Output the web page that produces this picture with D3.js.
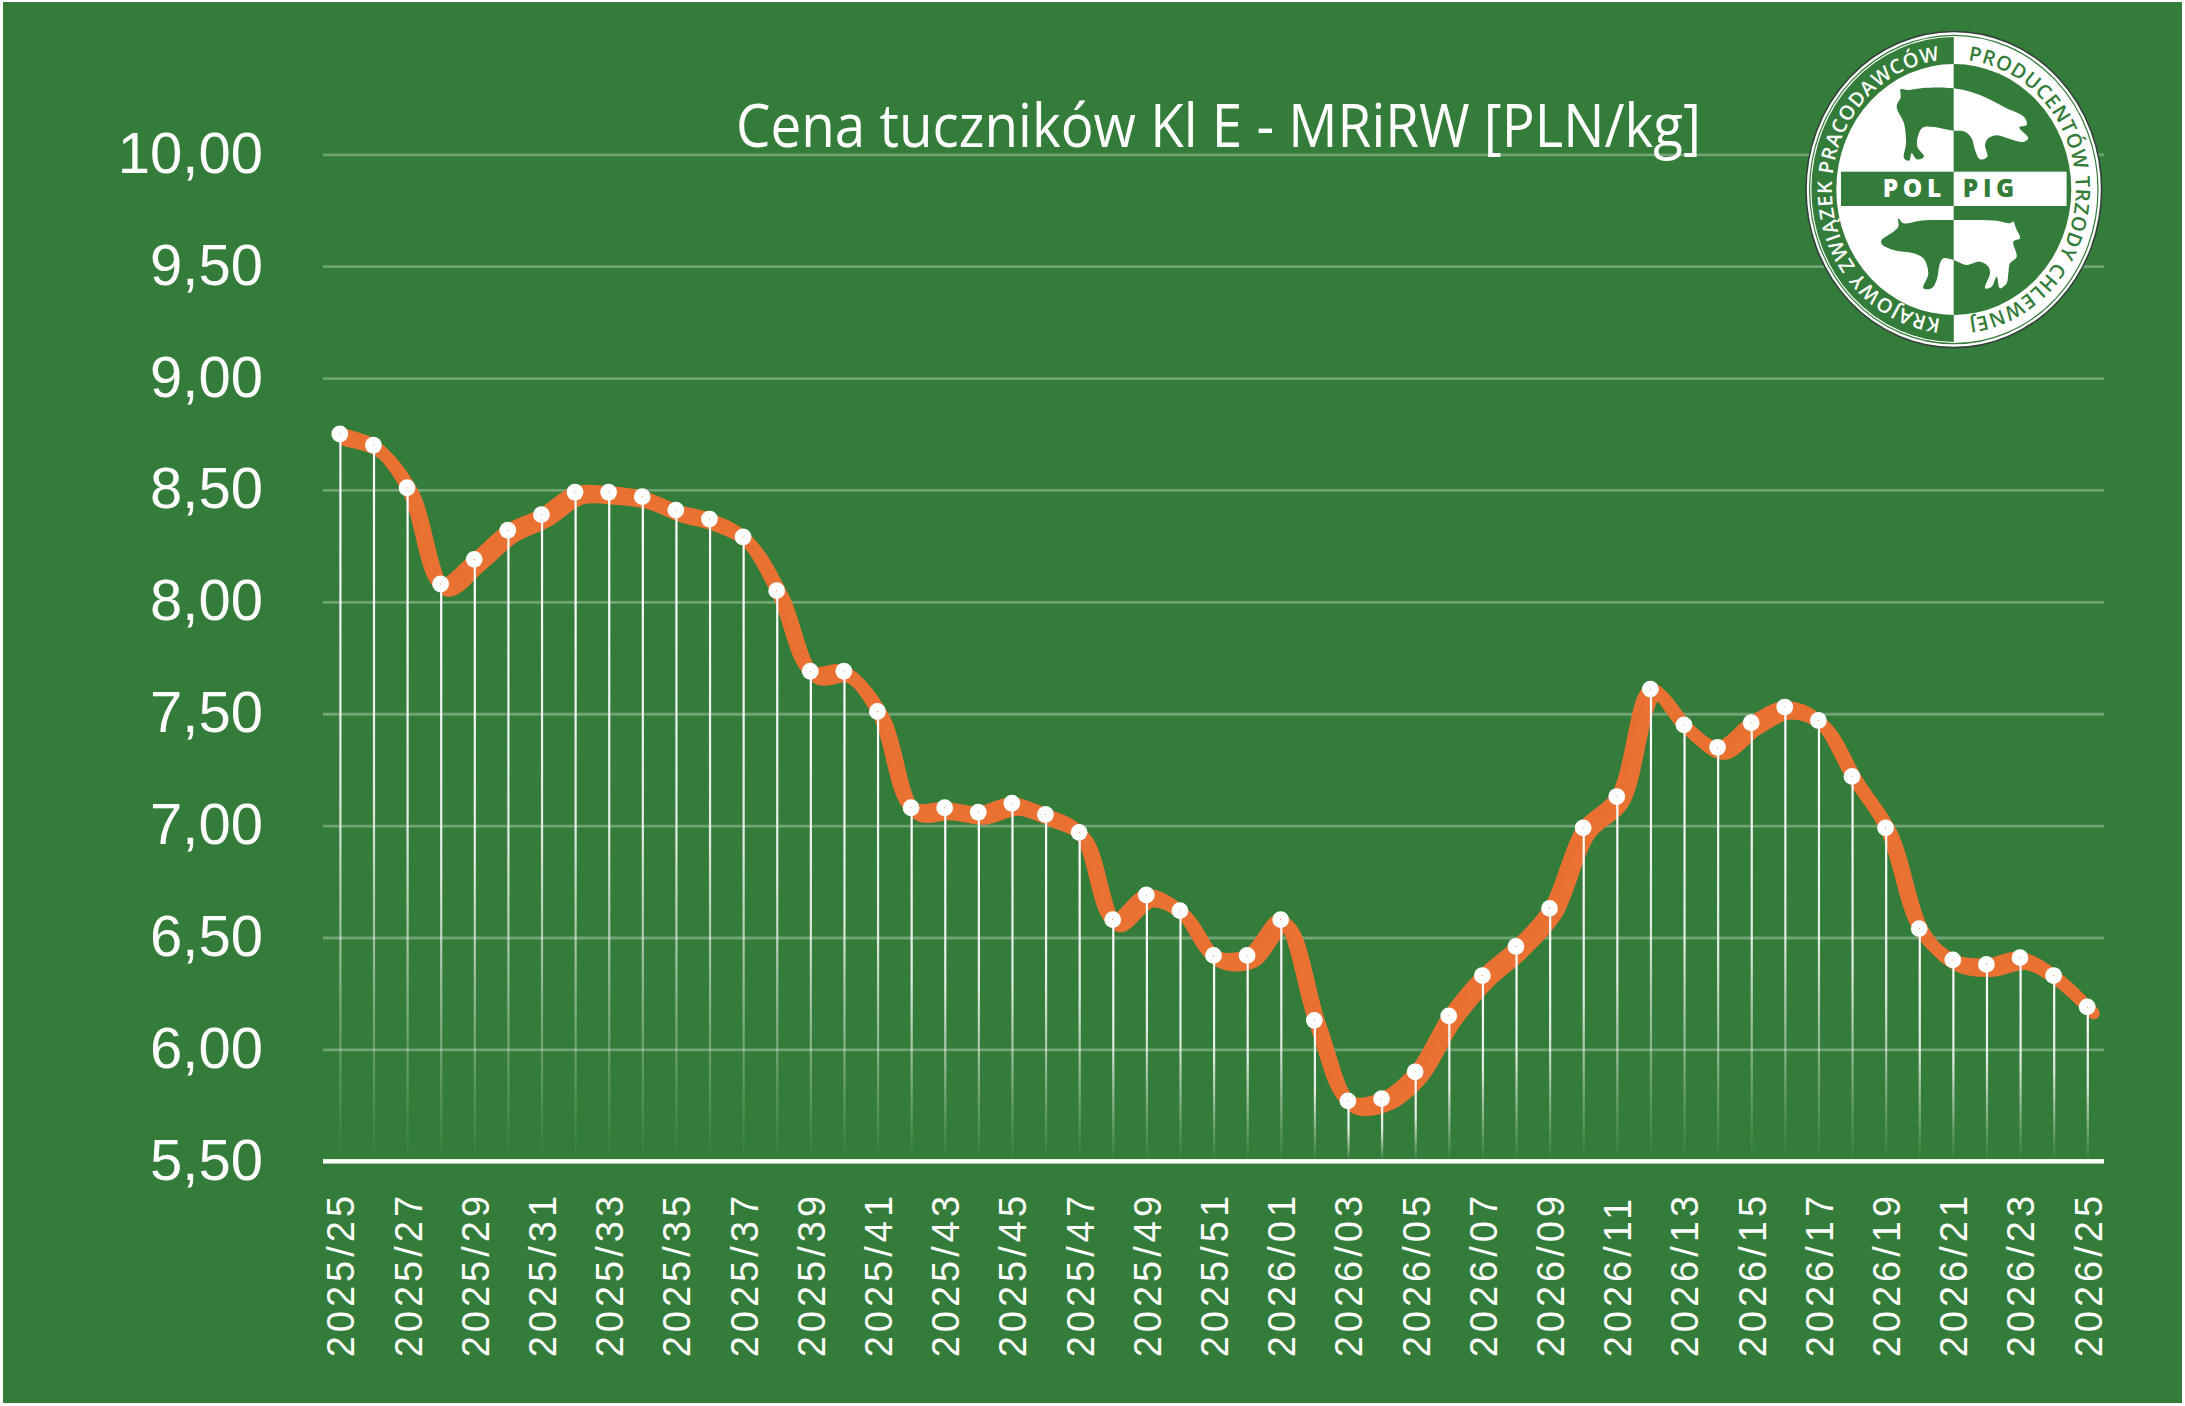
<!DOCTYPE html>
<html lang="pl">
<head>
<meta charset="utf-8">
<title>Cena tuczników Kl E - MRiRW</title>
<script src="https://cdn.jsdelivr.net/npm/d3@7"></script>
<style>
  html, body { margin: 0; padding: 0; background: #fff; }
  svg { display: block; }
  text { font-family: "Liberation Sans", Arial, sans-serif; fill: #fff; }
</style>
</head>
<body>
<svg id="chart" width="2185" height="1406"></svg>
<script>
// Weekly pork price, class E, year/week labels
const weeks = [
  "2025/25","2025/26","2025/27","2025/28","2025/29","2025/30","2025/31","2025/32","2025/33","2025/34",
  "2025/35","2025/36","2025/37","2025/38","2025/39","2025/40","2025/41","2025/42","2025/43","2025/44",
  "2025/45","2025/46","2025/47","2025/48","2025/49","2025/50","2025/51","2025/52","2026/01","2026/02",
  "2026/03","2026/04","2026/05","2026/06","2026/07","2026/08","2026/09","2026/10","2026/11","2026/12",
  "2026/13","2026/14","2026/15","2026/16","2026/17","2026/18","2026/19","2026/20","2026/21","2026/22",
  "2026/23","2026/24","2026/25"
];
const prices = [
  8.75, 8.70, 8.51, 8.08, 8.19, 8.32, 8.39, 8.49, 8.49, 8.47,
  8.41, 8.37, 8.29, 8.05, 7.69, 7.69, 7.51, 7.08, 7.08, 7.06,
  7.10, 7.05, 6.97, 6.58, 6.69, 6.62, 6.42, 6.42, 6.58, 6.13,
  5.77, 5.78, 5.90, 6.15, 6.33, 6.46, 6.63, 6.99, 7.13, 7.61,
  7.45, 7.35, 7.46, 7.53, 7.47, 7.22, 6.99, 6.54, 6.40, 6.38,
  6.41, 6.33, 6.19
];
const priceTicks = [5.5, 6, 6.5, 7, 7.5, 8, 8.5, 9, 9.5, 10];
const weekTicks = weeks.filter((_, i) => i % 2 === 0);
const chartTitle = "Cena tuczników Kl E - MRiRW [PLN/kg]";

const GREEN = "#347c39";
const ORANGE = "#e97132";

const svg = d3.select("#chart");
const plot = { left: 323, right: 2104, top: 154.3, bottom: 1161.3 };

const x = d3.scalePoint().domain(weeks).range([plot.left, plot.right]).padding(0.5);
const y = d3.scaleLinear().domain([5.5, 10]).range([plot.bottom, plot.top]);

// Card background with a thin white margin
svg.append("rect").attr("x", 0).attr("y", 0).attr("width", 2185).attr("height", 1406).attr("fill", "#fff");
svg.append("rect").attr("x", 3).attr("y", 2).attr("width", 2179).attr("height", 1401).attr("fill", GREEN);

// Stems fade out towards the baseline
const defs = svg.append("defs");
const fade = defs.append("linearGradient").attr("id", "stemFade").attr("x1", 0).attr("y1", 0).attr("x2", 0).attr("y2", 1);
[[0, 1], [0.5, 0.85], [0.85, 0.24], [1, 0]].forEach(([o, a]) =>
  fade.append("stop").attr("offset", o).attr("stop-color", "#fff").attr("stop-opacity", a));

// Value axis with horizontal grid
const yAxis = svg.append("g")
  .attr("transform", `translate(${plot.left},0)`)
  .call(d3.axisLeft(y)
    .tickValues(priceTicks)
    .tickSize(-(plot.right - plot.left))
    .tickPadding(60)
    .tickFormat(d => d3.format(".2f")(d).replace(".", ",")));
yAxis.select(".domain").remove();
yAxis.selectAll("line")
  .attr("stroke", "#fff").attr("stroke-opacity", d => d === 5.5 ? 0 : 0.3).attr("stroke-width", 2.8);
yAxis.selectAll("text")
  .attr("dy", 18).attr("font-size", 58).attr("text-anchor", "end")
  .style("font-family", '"Liberation Sans", Arial, sans-serif');

// Baseline and week labels
const xAxis = svg.append("g")
  .attr("transform", `translate(0,${plot.bottom})`)
  .call(d3.axisBottom(x).tickValues(weekTicks).tickSize(0).offset(0));
xAxis.select(".domain").remove();
xAxis.selectAll("text")
  .attr("x", 0).attr("y", 0).attr("dy", 0)
  .attr("text-anchor", "start")
  .attr("transform", "translate(14.5,196) rotate(-90)")
  .attr("font-size", 38)
  .style("letter-spacing", "4px")
  .style("font-family", '"Liberation Sans", Arial, sans-serif');
svg.append("rect")
  .attr("x", plot.left).attr("width", plot.right - plot.left)
  .attr("y", y(5.5) - 2.2).attr("height", 4.5).attr("fill", "#fff");

// Price ribbon: the smoothed line swept diagonally, as a bevelled stroke
const priceLine = d3.line()
  .x((d, i) => x(weeks[i]))
  .y(d => y(d))
  .curve(d3.curveCatmullRom.alpha(0.5));
svg.append("g").selectAll("path").data(d3.range(0, 6.51, 0.5)).join("path")
  .attr("d", priceLine(prices))
  .attr("transform", d => `translate(${d},${d})`)
  .attr("fill", "none")
  .attr("stroke", ORANGE)
  .attr("stroke-width", 12)
  .attr("stroke-linecap", "round")
  .attr("stroke-linejoin", "round");

// Drop lines from each point, over the ribbon
svg.append("g").selectAll("rect").data(prices).join("rect")
  .attr("x", (d, i) => x(weeks[i]) - 0.5)
  .attr("width", 2.2)
  .attr("y", d => y(d))
  .attr("height", d => y(5.5) - y(d))
  .attr("fill", "url(#stemFade)");

// Point markers: white discs with a pinhole centre
svg.append("g").selectAll("circle").data(prices).join("circle")
  .attr("cx", (d, i) => x(weeks[i])).attr("cy", d => y(d))
  .attr("r", 8.4).attr("fill", "#fff");
svg.append("g").selectAll("circle").data(prices).join("circle")
  .attr("cx", (d, i) => x(weeks[i])).attr("cy", d => y(d))
  .attr("r", 0.5).attr("fill", ORANGE);

// Title
svg.append("text")
  .attr("x", 736).attr("y", 147.3)
  .attr("font-size", 61)
  .attr("textLength", 965).attr("lengthAdjust", "spacingAndGlyphs")
  .style("font-family", '"Open Sans", sans-serif')
  .text(chartTitle);

// Union emblem, top right
const logo = svg.append("g").attr("transform", "translate(1953.8,189.5)");
const RX = 117.5, RY = 125.5;
const logoDefs = svg.select("defs");
logoDefs.append("clipPath").attr("id", "inner")
  .append("ellipse").attr("rx", RX).attr("ry", RY);
logoDefs.append("clipPath").attr("id", "leftHalf")
  .append("rect").attr("x", -200).attr("y", -200).attr("width", 200).attr("height", 400);
logoDefs.append("clipPath").attr("id", "rightHalf")
  .append("rect").attr("x", 0).attr("y", -200).attr("width", 200).attr("height", 400);

logo.append("ellipse").attr("rx", 147.8).attr("ry", 158)
  .attr("fill", "#fff").attr("stroke", "#33413a").attr("stroke-width", 1.6);
logo.append("ellipse").attr("rx", 144.2).attr("ry", 154.2)
  .attr("fill", "none").attr("stroke", GREEN).attr("stroke-width", 1.2);
logo.append("ellipse").attr("rx", 142.4).attr("ry", 152.4)
  .attr("fill", GREEN).attr("clip-path", "url(#leftHalf)");

const disc = logo.append("g").attr("clip-path", "url(#inner)");
disc.append("rect").attr("x", -150).attr("y", -160).attr("width", 150).attr("height", 320).attr("fill", "#fff");
disc.append("rect").attr("x", 0).attr("y", -160).attr("width", 150).attr("height", 320).attr("fill", GREEN);

const barTop = -17.8, barH = 34.3, barHalf = 112.8;
disc.append("rect").attr("x", -barHalf).attr("y", barTop).attr("width", barHalf).attr("height", barH).attr("fill", GREEN);
disc.append("rect").attr("x", 0).attr("y", barTop).attr("width", barHalf).attr("height", barH).attr("fill", "#fff");

// Pig silhouettes, half green on white and half white on green
const pigUpper = [[362,238],[385,240],[430,234],[520,235],[600,255],[680,295],[733,322],[740,345],[718,352],[745,385],[730,396],[690,387],[650,376],[625,385],[615,405],[622,440],[600,448],[585,420],[575,385],[555,365],[520,362],[430,352],[415,375],[412,410],[432,440],[410,448],[395,430],[388,452],[372,445],[378,400],[372,340],[350,290],[362,262]];
const pigLower = [[305,690],[340,665],[355,650],[355,625],[370,640],[420,632],[520,630],[650,632],[690,640],[700,635],[708,655],[720,685],[700,695],[710,740],[690,760],[685,790],[680,820],[660,835],[650,800],[635,830],[615,835],[630,790],[625,770],[600,755],[560,765],[520,750],[490,745],[480,760],[470,810],[455,835],[430,835],[445,790],[430,745],[400,730],[340,720],[305,702]];
const pigShape = d3.line().curve(d3.curveCatmullRomClosed.alpha(0.5));
[["url(#leftHalf)", GREEN], ["url(#rightHalf)", "#fff"]].forEach(([clip, fill]) => {
  const half = disc.append("g").attr("clip-path", clip)
    .append("g").attr("transform", "translate(-173.8,-179.5) scale(0.33333)");
  half.append("path").attr("d", pigShape(pigUpper)).attr("fill", fill);
  half.append("path").attr("d", pigShape(pigLower)).attr("fill", fill);
});

logo.append("text").attr("x", -8).attr("y", 7.8).attr("text-anchor", "end")
  .attr("font-size", 24.5).attr("font-weight", 800).style("letter-spacing", "4.6px")
  .style("font-family", '"Open Sans", sans-serif').text("POL");
logo.append("text").attr("x", 9).attr("y", 7.8)
  .attr("font-size", 24.5).attr("font-weight", 800).style("letter-spacing", "4.6px")
  .style("fill", GREEN).style("font-family", '"Open Sans", sans-serif').text("PIG");

// Ring captions follow half-ellipses running clockwise
const arcRx = 122, arcRy = 130;
logoDefs.append("path").attr("id", "arcLeft")
  .attr("d", `M0,${arcRy} A${arcRx},${arcRy} 0 0 1 0,${-arcRy}`);
logoDefs.append("path").attr("id", "arcRight")
  .attr("d", `M0,${-arcRy} A${arcRx},${arcRy} 0 0 1 0,${arcRy}`);
[["arcLeft", "KRAJOWY ZWIĄZEK PRACODAWCÓW", "#fff"], ["arcRight", "PRODUCENTÓW TRZODY CHLEWNEJ", GREEN]]
  .forEach(([id, caption, colour]) => {
    const t = logo.append("text")
      .attr("font-size", 20).attr("font-weight", 600)
      .style("font-family", '"Open Sans", sans-serif')
      .style("fill", colour);
    t.append("textPath").attr("href", `#${id}`)
      .attr("startOffset", "50%").attr("text-anchor", "middle")
      .style("letter-spacing", "0.8px")
      .style("fill", colour)
      .text(caption);
  });
</script>
</body>
</html>
